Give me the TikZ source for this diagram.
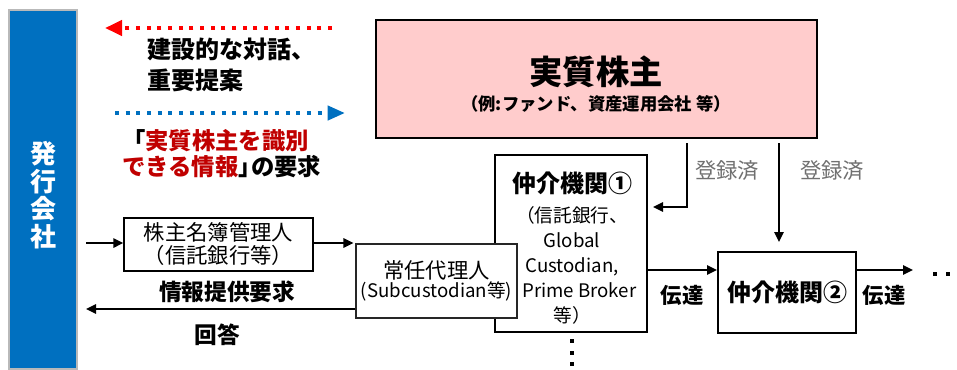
\documentclass[tikz,border=0pt]{standalone}
\usepackage{fontspec}
\setmainfont{Noto Sans CJK JP}
\usetikzlibrary{arrows.meta}
\definecolor{barblue}{HTML}{0070C0}
\definecolor{dotred}{HTML}{FF0000}
\definecolor{txtred}{HTML}{C00000}
\definecolor{pinkfill}{HTML}{FFCCCC}
\definecolor{lblgray}{HTML}{707070}
\begin{document}
\begin{tikzpicture}[x=0.75pt,y=-0.75pt,
  arr/.style={line width=1.5pt,-{Triangle[length=7.5pt,width=7pt]}},
  dotarrow/.style={line width=3pt,dash pattern=on 3pt off 5pt},
  box/.style={draw=black,fill=white,inner sep=0pt,align=center},
  txt/.style={inner sep=0pt,align=center},
  sq/.style={fill=black}
]
\useasboundingbox (0,0) rectangle (957,369);

% issuer bar
\node[fill=barblue,draw=gray!55,line width=1pt,inner sep=0pt,minimum width=51pt,minimum height=269.25pt] (bar) at (43,189.5) {};
\node[txt,text=white,font=\fontsize{19.5}{20.6}\selectfont\bfseries] (bartxt) at (43,195) {発\\行\\会\\社};

% dotted arrows
\coordinate (d1a) at (332,28);
\coordinate (d1b) at (105,28);
\draw[dotarrow,draw=dotred,-{Triangle[length=12.75pt,width=11.25pt]}] (d1a) -- (d1b);
\coordinate (d2a) at (115,113);
\coordinate (d2b) at (345,113);
\draw[dotarrow,draw=barblue,-{Triangle[length=13pt,width=10.5pt]}] (d2a) -- (d2b);

\node[txt,anchor=west,font=\fontsize{18}{23}\selectfont\bfseries,align=left] (talk) at (147,65) {建設的な対話、\\重要提案};
\node[txt,anchor=west,font=\fontsize{17.5}{19}\selectfont\bfseries,align=left] (req) at (122,153.5) {「\textcolor{txtred}{実質株主を識別}\\\textcolor{txtred}{できる情報}」\kern-0.45em の要求};

% beneficial owner box
\node[fill=pinkfill,draw=black,line width=1.8pt,inner sep=0pt,minimum width=330.75pt,minimum height=88.5pt] (owner) at (596.5,79) {};
\node[txt,font=\fontsize{25}{26}\selectfont\bfseries] (ownert) at (596,72) {実質株主};
\node[txt,font=\fontsize{13}{15}\selectfont\bfseries] (ownersub) at (596,104) {（例:ファンド、資産運用会社 等）};

% registrar box
\node[box,line width=1pt,minimum width=141.75pt,minimum height=39.75pt,font=\fontsize{16}{17.25}\selectfont] (kabu) at (218.5,244.5) {株主名簿管理人\\（信託銀行等）};

% intermediary 1
\node[box,line width=1.5pt,minimum width=114pt,minimum height=132.75pt] (med1) at (571,243.5) {};
\node[txt,font=\fontsize{14}{18.75}\selectfont] (med1t) at (572,248) {{\fontsize{18}{20}\selectfont\bfseries 仲介機関①}\\[3.5pt]（信託銀行、\\Global\\Custodian,\\\hspace*{11pt}Prime Broker\\等）};

% standing proxy (drawn over med1)
\node[box,draw=black!85,line width=0.8pt,minimum width=120.75pt,minimum height=55.5pt] (jonin) at (436.5,281) {{\fontsize{16}{19.5}\selectfont 常任代理人}\\{\fontsize{14}{16}\selectfont (Subcustodian等)}};

% intermediary 2
\node[box,line width=1.5pt,minimum width=103.5pt,minimum height=60.75pt,font=\fontsize{18}{20}\selectfont\bfseries] (med2) at (787,292.5) {仲介機関②};

% connectors
\coordinate (s1) at (86,243);
\draw[arr] (s1) -- (s1 -| kabu.west);
\draw[arr,shorten >=1.5pt] (kabu.east |- s1) -- (s1 -| jonin.west);
\coordinate (s2) at (86,309);
\draw[arr] (s2 -| jonin.west) -- (s2);
\coordinate (r1) at (687,143);
\coordinate (r1b) at (687,207);
\draw[arr,shorten >=3.75pt] (r1) -- (r1b) -- (r1b -| med1.east);
\coordinate (r2) at (779,143);
\draw[arr,shorten >=6.75pt] (r2) -- (r2 |- med2.north);
\coordinate (t1) at (0,270);
\draw[arr] (med1.east |- t1) -- (med2.west |- t1);
\coordinate (t2) at (913,270);
\draw[arr] (med2.east |- t2) -- (t2);

% labels
\node[txt,font=\fontsize{17}{19}\selectfont\bfseries] (inforeq) at (227,292) {情報提供要求};
\node[txt,font=\fontsize{17}{19}\selectfont\bfseries] (answer) at (217,335) {回答};
\node[txt,font=\fontsize{16}{18}\selectfont\bfseries] (den1) at (682,295) {伝達};
\node[txt,font=\fontsize{16}{18}\selectfont\bfseries] (den2) at (884,295) {伝達};
\node[txt,text=lblgray,font=\fontsize{16}{18}\selectfont] (reg1) at (727,170) {登録済};
\node[txt,text=lblgray,font=\fontsize{16}{18}\selectfont] (reg2) at (832,170) {登録済};

% continuation dots
\fill[sq] (933,272) rectangle (937,276);
\fill[sq] (946,272) rectangle (950,276);
\fill[sq] (569.5,339) rectangle (573.5,343);
\fill[sq] (569.5,351) rectangle (573.5,355);
\fill[sq] (569.5,362) rectangle (573.5,366);
\end{tikzpicture}
\end{document}
